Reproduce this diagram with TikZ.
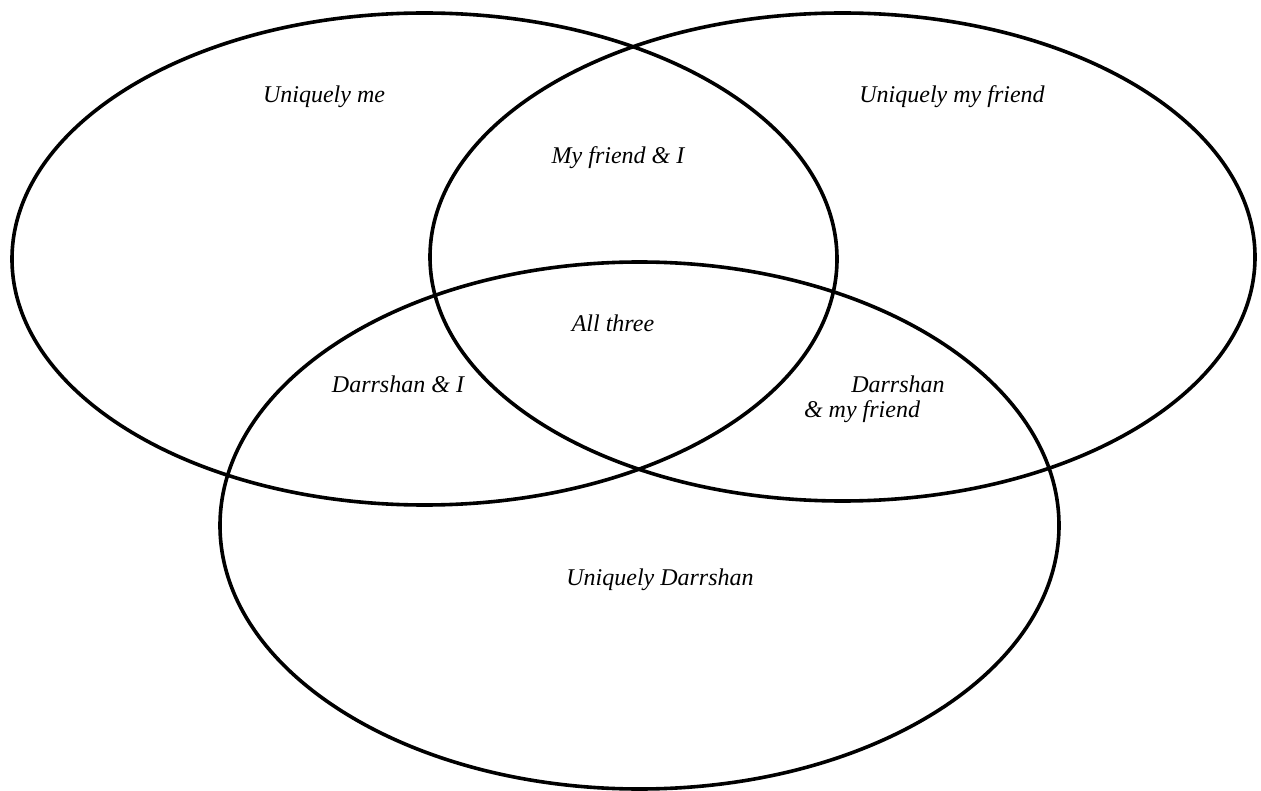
\documentclass[tikz,border=0pt]{standalone}
\usepackage{fontspec}
\setmainfont{Liberation Serif}
\usetikzlibrary{shapes.geometric}
\begin{document}
\begin{tikzpicture}[x=1pt,y=-1pt,
  ring/.style={draw=black,line width=3.6pt,ellipse,inner sep=0pt,outer sep=0pt},
  lab/.style={font=\itshape\fontsize{24}{28}\selectfont,inner sep=0pt,align=left}]
\useasboundingbox (0,0) rectangle (1261,791);
\node[ring,minimum width=825pt,minimum height=492pt] (me) at (424.5,259) {};
\node[ring,minimum width=825pt,minimum height=488pt] (friend) at (842.5,257) {};
\node[ring,minimum width=839pt,minimum height=527pt] (darr) at (639.5,525.5) {};
\node[lab] (um) at (324,97) {Uniquely me};
\node[lab] (uf) at (952,97) {Uniquely my friend};
\node[lab] (fi) at (618,158) {My friend \& I};
\node[lab] (all) at (613,323) {All three};
\node[lab] (di) at (398,384) {Darrshan \& I};
\node[lab] (d1) at (898,384) {Darrshan};
\node[lab] (d2) at (862,412) {\& my friend};
\node[lab] (ud) at (660,580) {Uniquely Darrshan};
\end{tikzpicture}
\end{document}
